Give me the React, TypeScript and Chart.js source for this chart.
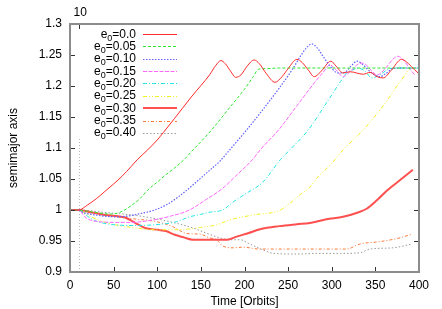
import React, { useEffect, useRef } from "react";
import { Chart, registerables } from "chart.js";
Chart.register(...registerables);

// ---- data (time in orbits, semimajor axis) ----
const eccLabels = ["0.0", "0.05", "0.10", "0.15", "0.20", "0.25", "0.30", "0.35", "0.40"];

const e000: number[][] = [[0,1],[10,1],[20,1.008],[30,1.018],[40,1.03],[50,1.042],[60,1.055],[70,1.07],[77,1.081],[89,1.097],[100,1.113],[107,1.125],[120,1.148],[140,1.184],[160,1.218],[167,1.233],[173,1.241],[178,1.236],[184,1.224],[190,1.214],[196,1.218],[203,1.232],[211,1.242],[217,1.236],[225,1.22],[235,1.206],[243,1.215],[250,1.228],[260,1.243],[266,1.238],[273,1.226],[280,1.215],[288,1.224],[299,1.24],[305,1.232],[313,1.221],[321,1.223],[336,1.219],[344,1.222],[352,1.215],[359,1.213],[368,1.225],[380,1.243],[388,1.236],[395,1.226],[399,1.221]];
const e005: number[][] = [[0,1],[10,1],[20,0.998],[30,0.996],[40,0.994],[48,0.9935],[60,0.998],[70,1.007],[80,1.018],[89,1.032],[100,1.045],[110,1.057],[120,1.068],[132,1.083],[141,1.097],[150,1.11],[164,1.132],[180,1.16],[200,1.195],[210,1.215],[216,1.227],[225,1.228],[240,1.229],[300,1.229],[399,1.229]];
const e010: number[][] = [[0,1],[10,1],[15,0.996],[25,0.993],[40,0.99],[52,0.989],[65,0.99],[80,0.994],[97,1.0],[110,1.008],[125,1.022],[143,1.043],[160,1.064],[172,1.079],[180,1.092],[203,1.13],[220,1.16],[240,1.197],[255,1.227],[265,1.25],[272,1.263],[277,1.268],[283,1.262],[290,1.248],[298,1.232],[305,1.222],[309,1.221],[315,1.222],[322,1.232],[329,1.24],[336,1.234],[345,1.222],[355,1.215],[362,1.22],[370,1.228],[380,1.229],[399,1.229]];
const e015: number[][] = [[0,1],[10,1],[17,0.989],[23,0.984],[35,0.981],[50,0.98],[70,0.98],[95,0.984],[115,0.99],[137,1.0],[155,1.016],[175,1.035],[190,1.055],[209,1.081],[218,1.097],[239,1.129],[260,1.168],[280,1.205],[290,1.222],[298,1.234],[305,1.226],[313,1.215],[320,1.222],[330,1.235],[336,1.237],[344,1.227],[352,1.218],[360,1.226],[370,1.243],[376,1.248],[382,1.242],[390,1.227],[395,1.218]];
const e020: number[][] = [[0,1],[10,1],[20,0.99],[30,0.982],[46,0.977],[70,0.975],[95,0.976],[122,0.981],[137,0.989],[150,0.993],[162,0.997],[175,1.0],[187,1.013],[200,1.025],[221,1.045],[241,1.081],[252,1.097],[273,1.129],[295,1.175],[310,1.207],[317,1.221],[324,1.226],[330,1.229],[338,1.224],[346,1.213],[355,1.218],[365,1.227],[375,1.229],[399,1.229]];
const e025: number[][] = [[0,1],[10,1],[20,0.992],[40,0.98],[65,0.973],[80,0.97],[100,0.968],[134,0.969],[150,0.972],[168,0.976],[183,0.984],[210,0.992],[241,1.0],[264,1.025],[275,1.037],[284,1.053],[300,1.075],[313,1.097],[336,1.129],[360,1.17],[380,1.21],[392,1.229],[399,1.229]];
const e030: number[][] = [[0,1],[10,1],[25,0.996],[40,0.992],[63,0.988],[75,0.979],[86,0.971],[101,0.968],[110,0.966],[120,0.96],[130,0.956],[141,0.952],[160,0.952],[180,0.952],[191,0.957],[205,0.963],[218,0.969],[240,0.974],[260,0.977],[275,0.979],[294,0.985],[313,0.989],[330,0.996],[340,1.002],[352,1.016],[363,1.031],[378,1.048],[393,1.065]];
const e035: number[][] = [[0,1],[10,1],[30,0.995],[50,0.99],[71,0.986],[100,0.981],[118,0.973],[134,0.962],[149,0.961],[160,0.955],[168,0.952],[175,0.942],[187,0.939],[198,0.94],[218,0.937],[250,0.937],[284,0.937],[317,0.937],[332,0.945],[355,0.949],[375,0.954],[392,0.961]];
const e040: number[][] = [[0,1],[10,1],[40,0.996],[71,0.992],[105,0.984],[141,0.971],[152,0.965],[172,0.955],[183,0.952],[195,0.952],[205,0.946],[214,0.94],[224,0.934],[233,0.93],[260,0.929],[284,0.93],[310,0.93],[332,0.931],[344,0.937],[370,0.939],[392,0.945]];

const xTickValues = [0, 50, 100, 150, 200, 250, 300, 350, 400];
const x2TickValues = [10];
const x2Marker = [0.9, 1.116];

const seriesData = [e000, e005, e010, e015, e020, e025, e030, e035, e040];
const seriesStyle = [
  { color: "#ff2a2a", width: 1, dash: [] as number[] },
  { color: "#2ee62e", width: 1, dash: [3, 2] },
  { color: "#6060ff", width: 1.2, dash: [1.5, 1.5] },
  { color: "#ff66ff", width: 1, dash: [4, 1.5] },
  { color: "#22e6e6", width: 1, dash: [4, 2, 1, 2] },
  { color: "#f2f222", width: 1, dash: [4, 2, 1, 2, 1, 2] },
  { color: "#ff5050", width: 2, dash: [] as number[] },
  { color: "#ff7a3a", width: 1, dash: [3, 2, 1, 2] },
  { color: "#9a9a9a", width: 1, dash: [1.5, 2] },
];

const FONT = "Liberation Sans, Arial, sans-serif";

const decor = {
  id: "decor",
  beforeDatasetsDraw(chart: any) {
    const { ctx, scales } = chart;
    const xs = scales.x;
    const ys = scales.y;
    ctx.save();
    ctx.strokeStyle = "#b8b8b8";
    ctx.lineWidth = 1;
    ctx.setLineDash([1, 2]);
    const px = Math.round(xs.getPixelForValue(x2TickValues[0])) + 0.5;
    ctx.beginPath();
    ctx.moveTo(px, ys.getPixelForValue(x2Marker[0]));
    ctx.lineTo(px, ys.getPixelForValue(x2Marker[1]));
    ctx.stroke();
    ctx.restore();
  },
  afterDraw(chart: any) {
    const { ctx, scales, chartArea } = chart;
    const xs = scales.x;
    const ys = scales.y;
    const { left, right, top, bottom } = chartArea;
    ctx.save();
    // ticks (inward)
    ctx.strokeStyle = "#333";
    ctx.lineWidth = 1;
    ctx.setLineDash([]);
    ctx.beginPath();
    xs.ticks.forEach((t: any) => {
      const p = Math.round(xs.getPixelForValue(t.value)) + 0.5;
      ctx.moveTo(p, bottom);
      ctx.lineTo(p, bottom - 5);
    });
    ys.ticks.forEach((t: any) => {
      const p = Math.round(ys.getPixelForValue(t.value)) + 0.5;
      ctx.moveTo(left, p);
      ctx.lineTo(left + 5, p);
      ctx.moveTo(right, p);
      ctx.lineTo(right - 5, p);
    });
    x2TickValues.forEach((v) => {
      const p = Math.round(xs.getPixelForValue(v)) + 0.5;
      ctx.moveTo(p, top);
      ctx.lineTo(p, top + 5);
    });
    ctx.stroke();
    // frame
    ctx.strokeStyle = "#8c8c8c";
    ctx.lineWidth = 2;
    ctx.strokeRect(left, top, right - left, bottom - top);

    // x2 label
    ctx.fillStyle = "#000";
    ctx.font = `12px ${FONT}`;
    ctx.textAlign = "center";
    ctx.textBaseline = "middle";
    x2TickValues.forEach((v) => {
      ctx.fillText(String(v), xs.getPixelForValue(v) + 1.5, 13);
    });

    // axis titles
    ctx.fillText("Time [Orbits]", (left + right) / 2, 302);
    ctx.save();
    ctx.translate(14, (top + bottom) / 2);
    ctx.rotate(-Math.PI / 2);
    ctx.fillText("semimajor axis", 0, 0);
    ctx.restore();

    // legend
    const textRight = left + 66;
    const sx0 = left + 73;
    const sx1 = left + 107;
    chart.data.datasets.forEach((ds: any, i: number) => {
      const lineY = top + 10 + i * 12.37;
      const base = lineY + 3.5;
      const tail = "=" + eccLabels[i];
      ctx.textAlign = "left";
      ctx.textBaseline = "alphabetic";
      ctx.font = `12px ${FONT}`;
      const wTail = ctx.measureText(tail).width;
      const wE = ctx.measureText("e").width;
      ctx.font = `9px ${FONT}`;
      const wSub = ctx.measureText("0").width;
      let x = textRight - wTail - wSub - wE;
      ctx.font = `12px ${FONT}`;
      ctx.fillText("e", x, base);
      x += wE;
      ctx.font = `9px ${FONT}`;
      ctx.fillText("0", x, base + 3);
      x += wSub;
      ctx.font = `12px ${FONT}`;
      ctx.fillText(tail, x, base);
      ctx.strokeStyle = ds.borderColor;
      ctx.lineWidth = ds.borderWidth;
      ctx.setLineDash(ds.borderDash || []);
      ctx.beginPath();
      const yy = ds.borderWidth === 2 ? Math.round(lineY) : Math.round(lineY) + 0.5;
      ctx.moveTo(sx0, yy);
      ctx.lineTo(sx1, yy);
      ctx.stroke();
    });
    ctx.restore();
  },
};

export default function App() {
  const ref = useRef<HTMLCanvasElement | null>(null);
  useEffect(() => {
    if (!ref.current) return;
    const chart = new Chart(ref.current, {
      type: "line",
      data: {
        datasets: seriesData.map((d, i) => ({
          label: "e0=" + eccLabels[i],
          data: d.map((p) => ({ x: p[0], y: p[1] })),
          borderColor: seriesStyle[i].color,
          borderWidth: seriesStyle[i].width,
          borderDash: seriesStyle[i].dash,
          pointRadius: 0,
          fill: false,
          cubicInterpolationMode: "monotone" as const,
        })),
      },
      options: {
        responsive: false,
        animation: false,
        layout: { padding: { top: 24, right: 23, left: 0, bottom: 0 } },
        plugins: { legend: { display: false }, tooltip: { enabled: false } },
        scales: {
          x: {
            type: "linear",
            min: 0,
            max: 400,
            afterBuildTicks: (s: any) => {
              s.ticks = xTickValues.map((v) => ({ value: v }));
            },
            ticks: { font: { family: FONT, size: 12 }, color: "#000", padding: 6, maxRotation: 0, autoSkip: false },
            grid: { display: false, drawTicks: false },
            border: { display: false },
            afterFit: (s: any) => {
              s.height = 37;
            },
          },
          y: {
            type: "linear",
            min: 0.9,
            max: 1.3,
            ticks: {
              stepSize: 0.05,
              font: { family: FONT, size: 12 },
              color: "#000",
              padding: 8,
              callback: (v: any) => String(+Number(v).toFixed(2)),
            },
            grid: { display: false, drawTicks: false },
            border: { display: false },
            afterFit: (s: any) => {
              s.width = 70;
            },
          },
        },
      },
      plugins: [decor],
    });
    return () => chart.destroy();
  }, []);
  return (
    <div style={{ position: "absolute", left: 0, top: 0, width: 442, height: 309, background: "#fff" }}>
      <canvas ref={ref} width={442} height={309} style={{ width: 442, height: 309, display: "block" }} />
    </div>
  );
}
